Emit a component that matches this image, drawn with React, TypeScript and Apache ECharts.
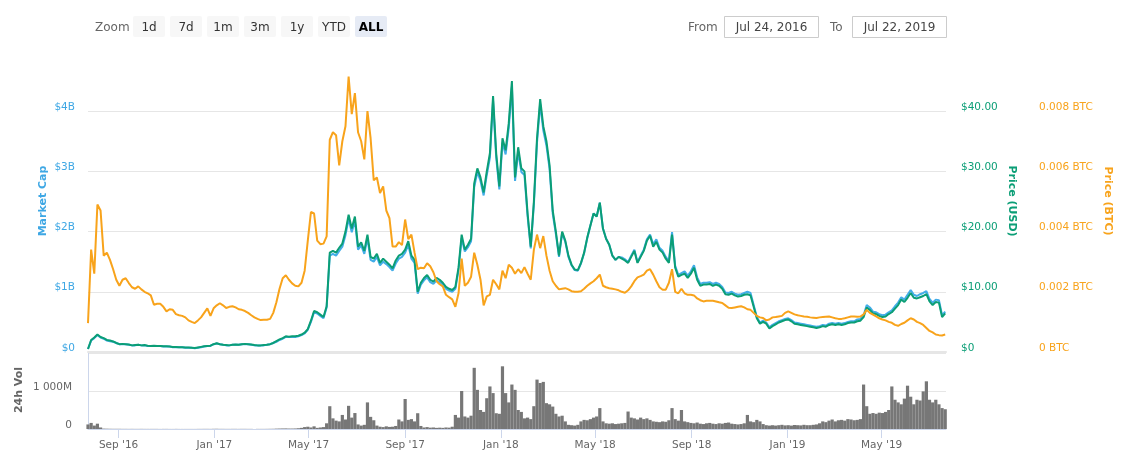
import React, { useEffect, useRef } from "react";
import * as echarts from "echarts";

// ---- time base: one sample every 4 days from Jul 24, 2016 ----
const startDate = Date.UTC(2016, 6, 24);
const axisStart = Date.UTC(2016, 6, 24);
const axisEnd = Date.UTC(2019, 6, 22);
const stepDays = 4;

// Price (USD)
const priceUsd = [
  0.5, 2.0, 2.4, 2.9, 2.5, 2.3, 2.0, 1.9, 1.75, 1.5,
  1.3, 1.35, 1.3, 1.25, 1.1, 1.15, 1.2, 1.1, 1.15, 1.05,
  1.0, 1.05, 1.0, 1.0, 0.95, 0.95, 0.9, 0.85, 0.85, 0.8,
  0.8, 0.75, 0.75, 0.7, 0.65, 0.75, 0.85, 0.95, 1.0, 1.05,
  1.3, 1.45, 1.3, 1.2, 1.15, 1.1, 1.2, 1.25, 1.2, 1.3,
  1.35, 1.3, 1.25, 1.15, 1.1, 1.1, 1.15, 1.2, 1.3, 1.5,
  1.8, 2.1, 2.3, 2.6, 2.55, 2.6, 2.6, 2.7, 2.9, 3.2,
  3.8, 5.2, 6.8, 6.6, 6.2, 5.8, 7.6, 16.5, 16.8, 16.5,
  17.3, 18.0, 20.0, 22.8, 20.5, 22.5, 17.5, 18.2, 16.8, 19.5,
  15.8, 15.5, 16.3, 14.8, 15.5, 15.0, 14.5, 13.9, 15.2, 16.0,
  16.3, 17.0, 18.4, 16.0, 15.3, 10.0, 11.5, 12.3, 12.8, 12.0,
  11.7, 12.3, 12.0, 11.5, 10.8, 10.5, 10.3, 10.8, 14.0, 19.5,
  17.0, 17.8, 18.8, 28.0, 30.5, 29.0, 26.5, 30.0, 33.0, 42.5,
  33.0, 27.5, 35.5, 33.5, 38.0, 45.0, 29.0, 34.0, 30.5, 30.0,
  23.0, 17.5, 25.0, 35.5, 42.0, 37.5, 35.0, 31.0, 23.5, 20.0,
  16.0, 20.0, 18.5, 16.0, 14.5, 13.7, 13.6, 14.8, 16.5, 19.0,
  21.0, 23.0, 22.5, 24.8, 20.5, 18.8, 17.8, 16.0, 15.3, 15.8,
  15.5, 15.2, 14.8, 15.8, 16.8, 14.8, 15.8, 16.8, 18.5, 19.3,
  17.5, 18.3, 17.0, 16.5, 15.5, 14.8, 19.5, 14.0, 12.5, 12.8,
  13.0, 12.3, 13.0, 14.0, 12.0, 11.0, 11.2, 11.2, 11.3, 11.0,
  11.2, 11.0, 10.5, 9.6, 9.5, 9.7, 9.4, 9.2, 9.3, 9.5,
  9.6, 9.4, 7.5, 5.6, 4.7, 5.0, 4.7, 3.9, 4.3, 4.6,
  4.9, 5.1, 5.3, 5.4, 5.1, 4.7, 4.6, 4.5, 4.4, 4.3,
  4.2, 4.1, 4.0, 4.1, 4.3, 4.2, 4.5, 4.6, 4.5, 4.6,
  4.5, 4.6, 4.8, 4.9, 4.9, 5.1, 5.2, 5.8, 7.4, 7.0,
  6.4, 6.3, 6.0, 5.8, 5.9, 6.3, 6.6, 7.2, 7.8, 8.7,
  8.3, 9.0, 9.8, 9.0, 8.9, 9.1, 9.3, 9.6, 8.4, 7.8,
  8.3, 8.2, 5.8, 6.4,
];

// Market cap (billions USD)
const marketCapB = [
  0.05, 0.19, 0.23, 0.28, 0.24, 0.22, 0.19, 0.18, 0.17, 0.15,
  0.13, 0.13, 0.13, 0.12, 0.11, 0.11, 0.12, 0.11, 0.11, 0.10,
  0.10, 0.10, 0.10, 0.10, 0.09, 0.09, 0.09, 0.08, 0.08, 0.08,
  0.08, 0.07, 0.07, 0.07, 0.06, 0.07, 0.08, 0.09, 0.10, 0.10,
  0.13, 0.14, 0.13, 0.12, 0.11, 0.11, 0.12, 0.12, 0.12, 0.13,
  0.13, 0.13, 0.12, 0.11, 0.11, 0.11, 0.11, 0.12, 0.13, 0.15,
  0.17, 0.20, 0.22, 0.25, 0.25, 0.25, 0.25, 0.26, 0.28, 0.31,
  0.37, 0.50, 0.66, 0.64, 0.60, 0.56, 0.74, 1.60, 1.63, 1.60,
  1.68, 1.75, 1.94, 2.21, 1.99, 2.18, 1.70, 1.77, 1.63, 1.89,
  1.53, 1.50, 1.58, 1.44, 1.50, 1.46, 1.41, 1.35, 1.47, 1.55,
  1.58, 1.65, 1.78, 1.55, 1.48, 0.97, 1.12, 1.19, 1.24, 1.16,
  1.13, 1.19, 1.16, 1.12, 1.05, 1.02, 1.00, 1.05, 1.36, 1.89,
  1.67, 1.74, 1.84, 2.74, 2.99, 2.84, 2.60, 2.94, 3.23, 4.17,
  3.23, 2.70, 3.48, 3.28, 3.72, 4.41, 2.84, 3.33, 2.99, 2.94,
  2.25, 1.72, 2.45, 3.48, 4.12, 3.68, 3.43, 3.04, 2.30, 1.96,
  1.58, 1.98, 1.83, 1.58, 1.44, 1.36, 1.35, 1.47, 1.64, 1.89,
  2.10, 2.30, 2.25, 2.48, 2.05, 1.88, 1.78, 1.60, 1.53, 1.58,
  1.57, 1.54, 1.49, 1.60, 1.70, 1.49, 1.60, 1.70, 1.87, 1.95,
  1.79, 1.87, 1.73, 1.68, 1.58, 1.51, 1.99, 1.43, 1.28, 1.31,
  1.34, 1.27, 1.34, 1.44, 1.24, 1.13, 1.15, 1.15, 1.16, 1.13,
  1.15, 1.13, 1.08, 0.99, 0.98, 1.00, 0.97, 0.95, 0.96, 0.98,
  1.00, 0.98, 0.78, 0.58, 0.49, 0.52, 0.49, 0.41, 0.45, 0.48,
  0.51, 0.53, 0.55, 0.56, 0.53, 0.49, 0.48, 0.47, 0.46, 0.45,
  0.44, 0.43, 0.42, 0.43, 0.45, 0.44, 0.47, 0.48, 0.47, 0.48,
  0.47, 0.48, 0.50, 0.51, 0.51, 0.54, 0.55, 0.61, 0.78, 0.74,
  0.67, 0.66, 0.63, 0.61, 0.62, 0.66, 0.69, 0.76, 0.82, 0.91,
  0.87, 0.95, 1.03, 0.95, 0.93, 0.96, 0.98, 1.01, 0.88, 0.82,
  0.87, 0.86, 0.61, 0.67,
];

// Price (BTC), in thousandths of a BTC
const priceMilliBtc = [
  0.96, 3.4, 2.6, 4.9, 4.7, 3.2, 3.3, 3.06, 2.75, 2.4,
  2.2, 2.4, 2.45, 2.29, 2.15, 2.1, 2.18, 2.08, 2.0, 1.95,
  1.88, 1.57, 1.6, 1.6, 1.5, 1.35, 1.42, 1.4, 1.26, 1.22,
  1.2, 1.15, 1.05, 1.0, 0.96, 1.05, 1.15, 1.3, 1.45, 1.2,
  1.45, 1.55, 1.62, 1.55, 1.46, 1.5, 1.52, 1.48, 1.42, 1.4,
  1.36, 1.3, 1.22, 1.15, 1.1, 1.06, 1.07, 1.07, 1.1, 1.3,
  1.65, 2.1, 2.45, 2.55, 2.4, 2.28, 2.2, 2.18, 2.3, 2.7,
  3.7, 4.65, 4.6, 3.7, 3.58, 3.6, 3.84, 7.05, 7.3, 7.2,
  6.2, 7.0, 7.5, 9.15, 7.9, 8.6, 7.3, 7.0, 6.4, 8.0,
  7.1, 5.7, 5.8, 5.28, 5.5, 4.7, 4.45, 3.5, 3.5, 3.65,
  3.55, 4.4, 3.75, 3.9, 3.3, 2.75, 2.8, 2.78, 2.95, 2.85,
  2.65, 2.35, 2.25, 2.18, 1.9, 1.82, 1.75, 1.5, 1.95, 3.1,
  2.2, 2.3, 2.5, 3.3, 2.9, 2.4, 1.55, 1.85, 1.9, 2.4,
  2.25, 2.08, 2.7, 2.45, 2.9, 2.8, 2.6, 2.75, 2.62, 2.82,
  2.6, 2.4, 3.4, 3.9, 3.45, 3.85, 3.2, 2.7, 2.35, 2.2,
  2.08, 2.1, 2.12, 2.08, 2.02, 2.0, 2.0, 2.02, 2.1, 2.2,
  2.28, 2.35, 2.45, 2.57, 2.2, 2.15, 2.12, 2.1, 2.08, 2.05,
  2.0, 1.97, 2.05, 2.18, 2.35, 2.48, 2.52, 2.57, 2.7, 2.75,
  2.57, 2.35, 2.15, 2.07, 2.07, 2.3, 2.75, 2.0, 1.95, 2.1,
  1.95, 1.9, 1.9, 1.88, 1.78, 1.72, 1.68, 1.7, 1.7, 1.7,
  1.68, 1.65, 1.63, 1.55, 1.47, 1.46, 1.48, 1.5, 1.52, 1.48,
  1.42, 1.4, 1.3, 1.2, 1.15, 1.13, 1.05, 1.08, 1.15, 1.16,
  1.18, 1.2, 1.3, 1.35, 1.3, 1.25, 1.22, 1.2, 1.18, 1.17,
  1.15, 1.14, 1.13, 1.15, 1.16, 1.17, 1.18, 1.15, 1.12, 1.1,
  1.1, 1.12, 1.15, 1.18, 1.18, 1.17, 1.18, 1.25, 1.4, 1.3,
  1.24, 1.18, 1.12, 1.08, 1.05, 1.0, 0.97, 0.9, 0.87, 0.93,
  0.97, 1.05, 1.12, 1.08, 1.0, 0.96, 0.9, 0.8, 0.7, 0.65,
  0.58, 0.56, 0.55, 0.58,
];

// 24h volume (millions USD)
const volumeM = [
  120, 160, 90, 140, 40, 10, 8, 6, 5, 5,
  5, 4, 4, 3, 4, 3, 3, 4, 3, 3,
  3, 3, 3, 2, 3, 3, 2, 2, 3, 2,
  2, 2, 2, 2, 2, 3, 3, 4, 4, 3,
  5, 6, 4, 4, 3, 3, 4, 4, 3, 4,
  4, 3, 3, 3, 3, 3, 3, 4, 5, 6,
  10, 12, 14, 15, 12, 12, 14, 20, 30, 50,
  60, 40, 70, 30, 40, 50, 150, 600, 280, 220,
  200, 370, 250, 610, 300, 420, 120, 90, 110, 700,
  320, 230, 90, 60, 50, 70, 55, 60, 80, 250,
  200, 790, 240, 260, 200, 415, 80, 40, 50, 35,
  40, 30, 35, 30, 40, 35, 60, 370, 300, 1000,
  330, 300, 350, 1610, 1030, 500, 450, 810, 1120, 945,
  415, 400, 1650, 945, 700, 1170, 1030, 500, 450, 280,
  300, 260, 600, 1300, 1210, 1240, 680, 650, 590, 400,
  330, 350, 200, 110, 100, 90, 110, 200, 240, 230,
  260, 300, 330, 550, 200, 150, 140, 150, 130, 140,
  150, 160, 460, 300, 280, 250, 300, 260, 280, 240,
  200, 190, 180, 200, 190, 230, 550, 260, 220, 500,
  200, 180, 160, 150, 170, 140, 130, 150, 160, 140,
  130, 150, 140, 160, 170, 140, 130, 120, 130, 150,
  370, 200, 180, 240, 200, 130, 100, 90, 100, 90,
  100, 110, 95, 100, 90, 105, 100, 95, 110, 100,
  100, 110, 120, 150, 200, 180, 220, 250, 200, 230,
  240, 220, 260, 250, 230, 240, 260, 1170, 600, 400,
  420, 400, 430, 420, 450, 500, 1120, 770, 700, 650,
  800, 1140, 850, 650, 770, 750, 990, 1255, 770, 700,
  770, 650, 550, 520,
];

// x-axis tick months
const tickMonths: [number, number][] = [
  [2016, 8], [2017, 0], [2017, 4], [2017, 8], [2018, 0],
  [2018, 4], [2018, 8], [2019, 0], [2019, 4],
];
const monthNames = ["Jan", "Feb", "Mar", "Apr", "May", "Jun", "Jul", "Aug", "Sep", "Oct", "Nov", "Dec"];

const zoomButtons = ["1d", "7d", "1m", "3m", "1y", "YTD", "ALL"];
const fromLabel = "Jul 24, 2016";
const toLabel = "Jul 22, 2019";

const FONT = "DejaVu Sans";
const BLUE = "#43ade8";
const BLUE_LABEL = "#3ea7e4";
const GREEN = "#0b9e76";
const ORANGE = "#f8a31b";
const GRID_LINE = "#e6e6e6";

function pair(arr: number[]) {
  return arr.map((v, i) => [startDate + i * stepDays * 86400000, v]);
}

export default function App() {
  const ref = useRef<HTMLDivElement>(null);
  useEffect(() => {
    const chart = echarts.init(ref.current!, null, { renderer: "svg" });
    const tickValues = tickMonths.map(([y, m]) => Date.UTC(y, m, 1));
    const mainGridColors = [GRID_LINE, GRID_LINE, GRID_LINE, GRID_LINE, GRID_LINE, "rgba(0,0,0,0)"];

    const graphics: any[] = [
      { type: "text", x: 95, y: 27, style: { text: "Zoom", fill: "#666", font: `12px "${FONT}"`, verticalAlign: "middle" } },
    ];
    zoomButtons.forEach((b, k) => {
      const x = 133 + k * 37;
      const sel = b === "ALL";
      graphics.push({ type: "rect", shape: { x, y: 16, width: 32, height: 21, r: 2 }, style: { fill: sel ? "#e6ebf5" : "#f7f7f7" } });
      graphics.push({
        type: "text", x: x + 16, y: 27,
        style: { text: b, fill: sel ? "#000" : "#333", font: `${sel ? "bold " : ""}12px "${FONT}"`, align: "center", verticalAlign: "middle" },
      });
    });
    graphics.push({ type: "text", x: 688, y: 27, style: { text: "From", fill: "#666", font: `12px "${FONT}"`, verticalAlign: "middle" } });
    graphics.push({ type: "rect", shape: { x: 724.5, y: 16.5, width: 94, height: 21 }, style: { fill: "#fff", stroke: "#cccccc", lineWidth: 1 } });
    graphics.push({ type: "text", x: 771.5, y: 27, style: { text: fromLabel, fill: "#444", font: `12px "${FONT}"`, align: "center", verticalAlign: "middle" } });
    graphics.push({ type: "text", x: 830, y: 27, style: { text: "To", fill: "#666", font: `12px "${FONT}"`, verticalAlign: "middle" } });
    graphics.push({ type: "rect", shape: { x: 852.5, y: 16.5, width: 94, height: 21 }, style: { fill: "#fff", stroke: "#cccccc", lineWidth: 1 } });
    graphics.push({ type: "text", x: 899.5, y: 27, style: { text: toLabel, fill: "#444", font: `12px "${FONT}"`, align: "center", verticalAlign: "middle" } });
    graphics.push({ type: "text", x: 42, y: 201, rotation: Math.PI / 2, style: { text: "Market Cap", fill: BLUE_LABEL, font: `bold 11px "${FONT}"`, align: "center", verticalAlign: "middle" } });
    graphics.push({ type: "text", x: 1012, y: 201, rotation: -Math.PI / 2, style: { text: "Price (USD)", fill: GREEN, font: `bold 11px "${FONT}"`, align: "center", verticalAlign: "middle" } });
    graphics.push({ type: "text", x: 1108, y: 201, rotation: -Math.PI / 2, style: { text: "Price (BTC)", fill: ORANGE, font: `bold 11px "${FONT}"`, align: "center", verticalAlign: "middle" } });
    graphics.push({ type: "text", x: 18, y: 390, rotation: Math.PI / 2, style: { text: "24h Vol", fill: "#666", font: `bold 11px "${FONT}"`, align: "center", verticalAlign: "middle" } });

    const fmtMonth = (v: number) => {
      const d = new Date(v);
      return `${monthNames[d.getUTCMonth()]} '${String(d.getUTCFullYear()).slice(2)}`;
    };

    chart.setOption({
      animation: false,
      textStyle: { fontFamily: FONT },
      grid: [
        { left: 88, width: 858, top: 72, height: 280 },
        { left: 88, width: 858, top: 353, height: 76 },
      ],
      xAxis: [
        {
          type: "value", gridIndex: 0, min: axisStart, max: axisEnd, scale: true,
          axisLabel: { show: false }, axisTick: { show: false }, splitLine: { show: false },
          axisLine: { show: true, onZero: false, lineStyle: { color: GRID_LINE, width: 2 } },
        },
        {
          type: "value", gridIndex: 1, min: axisStart, max: axisEnd, scale: true,
          splitLine: { show: false },
          axisLine: { show: true, onZero: false, lineStyle: { color: "#ccd6eb", width: 1 } },
          axisTick: { show: true, customValues: tickValues, length: 9, lineStyle: { color: "#ccd6eb" } },
          axisLabel: { customValues: tickValues, formatter: fmtMonth, color: "#666", fontSize: 10.5, margin: 9 },
        },
      ],
      yAxis: [
        {
          type: "value", gridIndex: 0, position: "left", min: 0, max: 4.65, interval: 1,
          axisLine: { show: false }, axisTick: { show: false },
          axisLabel: {
            color: BLUE_LABEL, fontSize: 10.5, margin: 13, verticalAlign: "bottom", showMaxLabel: false,
            formatter: (v: number) => (v === 0 ? "$0" : `$${v}B`),
          },
          splitLine: { show: true, lineStyle: { color: mainGridColors, width: 1 } },
        },
        {
          type: "value", gridIndex: 0, position: "right", min: 0, max: 46.5, interval: 10,
          axisLine: { show: false }, axisTick: { show: false }, splitLine: { show: false },
          axisLabel: {
            color: GREEN, fontSize: 10.5, margin: 15, verticalAlign: "bottom", showMaxLabel: false,
            formatter: (v: number) => (v === 0 ? "$0" : `$${v.toFixed(2)}`),
          },
        },
        {
          type: "value", gridIndex: 0, position: "right", offset: 78, min: 0, max: 9.3, interval: 2,
          axisLine: { show: false }, axisTick: { show: false }, splitLine: { show: false },
          axisLabel: {
            color: ORANGE, fontSize: 10.5, margin: 15, verticalAlign: "bottom", showMaxLabel: false,
            formatter: (v: number) => (v === 0 ? "0 BTC" : `${(v / 1000).toFixed(3)} BTC`),
          },
        },
        {
          type: "value", gridIndex: 1, position: "left", min: 0, max: 2000, interval: 1000,
          axisLine: { show: true, lineStyle: { color: "#ccd6eb" } }, axisTick: { show: false },
          axisLabel: {
            color: "#666", fontSize: 10.5, margin: 16, verticalAlign: "bottom", showMaxLabel: false,
            formatter: (v: number) => (v === 0 ? "0" : v === 1000 ? "1 000M" : ""),
          },
          splitLine: { show: true, lineStyle: { color: GRID_LINE } },
        },
      ],
      series: [
        {
          name: "Market Cap", type: "line", xAxisIndex: 0, yAxisIndex: 0, data: pair(marketCapB),
          showSymbol: false, symbol: "none", lineStyle: { color: BLUE, width: 2 }, itemStyle: { color: BLUE }, z: 2,
        },
        {
          name: "Price (USD)", type: "line", xAxisIndex: 0, yAxisIndex: 1, data: pair(priceUsd),
          showSymbol: false, symbol: "none", lineStyle: { color: GREEN, width: 2 }, itemStyle: { color: GREEN }, z: 3,
        },
        {
          name: "Price (BTC)", type: "line", xAxisIndex: 0, yAxisIndex: 2, data: pair(priceMilliBtc),
          showSymbol: false, symbol: "none", lineStyle: { color: ORANGE, width: 2 }, itemStyle: { color: ORANGE }, z: 4,
        },
        {
          name: "24h Vol", type: "bar", xAxisIndex: 1, yAxisIndex: 3, data: pair(volumeM),
          barWidth: 3.2, itemStyle: { color: "#777777" },
        },
      ],
      graphic: graphics,
    });
    return () => chart.dispose();
  }, []);
  return <div ref={ref} style={{ position: "fixed", left: 0, top: 0, width: 1131, height: 470 }} />;
}
